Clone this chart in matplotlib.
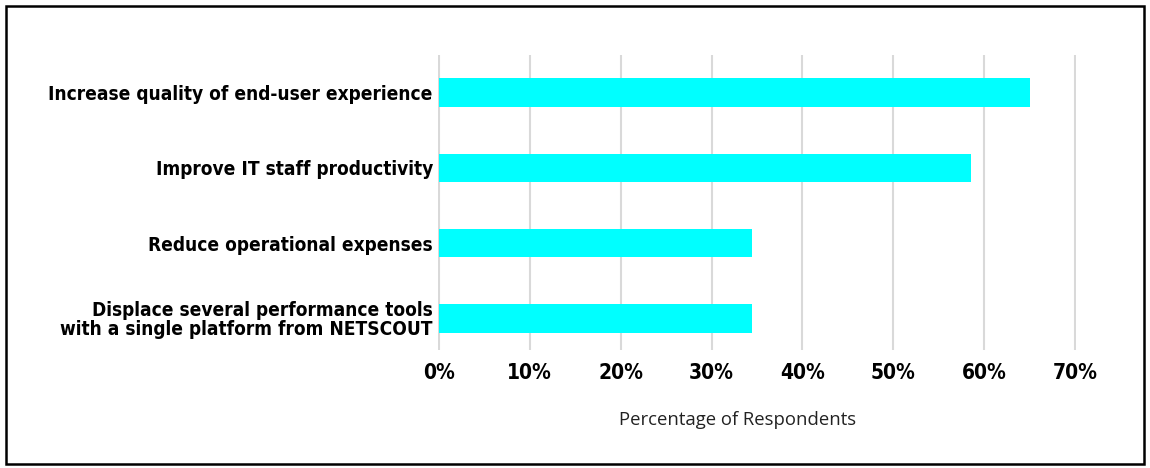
import matplotlib
matplotlib.use("Agg")
import matplotlib.pyplot as plt
from matplotlib.patches import Rectangle
from matplotlib.ticker import FuncFormatter
from matplotlib import font_manager as fm

categories = [
    "Increase quality of end-user experience",
    "Improve IT staff productivity",
    "Reduce operational expenses",
    "Displace several performance tools\nwith a single platform from NETSCOUT",
]
values = [65, 58.5, 34.5, 34.5]
xticks = [0, 10, 20, 30, 40, 50, 60, 70]

# condensed bold font (DejaVu Sans Condensed Bold) if available
cond_bold = None
for f in fm.fontManager.ttflist:
    if "dejavusanscondensed-bold.ttf" in f.fname.lower():
        cond_bold = f.fname
for f in fm.fontManager.ttflist:
    n = f.fname.lower()
    if cond_bold is None and ("narrow" in n or "condensed" in n) and "bold" in n and "italic" not in n:
        cond_bold = f.fname

def fpb(size):
    if cond_bold:
        return fm.FontProperties(fname=cond_bold, size=size)
    return fm.FontProperties(family="DejaVu Sans", weight="bold", size=size)

W, H = 1150, 468
x0px, x70px = 439, 1075
pad_pct = 0.15
px_per_pct = (x70px - x0px) / 70
left = (x0px - pad_pct * px_per_pct) / W
right = (x70px + pad_pct * px_per_pct) / W

fig = plt.figure(figsize=(11.5, 4.68), dpi=100)
ax = fig.add_axes([left, 0.252, right - left, 0.8825 - 0.252])

pos = list(range(len(categories)))
ax.barh(pos, values, height=0.38, color="#00FFFF", zorder=3)
ax.set_ylim(3.42, -0.5)
ax.set_xlim(-pad_pct, 70 + pad_pct)
ax.set_xticks(xticks)
ax.xaxis.set_major_formatter(FuncFormatter(lambda v, p: f"{int(v)}%"))
ax.set_yticks(pos)
ax.set_yticklabels(categories, linespacing=1.0)
for lab in ax.get_yticklabels():
    lab.set_fontproperties(fpb(13.7))
for lab in ax.get_xticklabels():
    lab.set_fontproperties(fpb(15))
ax.tick_params(axis="both", length=0)
ax.tick_params(axis="x", pad=9)
ax.tick_params(axis="y", pad=3.5)
ax.grid(axis="x", color="#d9d9d9", linewidth=1.5, zorder=0)
for s in ax.spines.values():
    s.set_visible(False)
ax.set_xlabel("Percentage of Respondents", family=["Open Sans", "DejaVu Sans"],
              fontsize=13.3, color="#222222")
ax.xaxis.set_label_coords(0.470, -0.208)

fig.add_artist(Rectangle((0.005, 0.008), 0.99, 0.98, transform=fig.transFigure,
                         fill=False, edgecolor="black", linewidth=1.8))

fig.savefig("out.png", dpi=100)
